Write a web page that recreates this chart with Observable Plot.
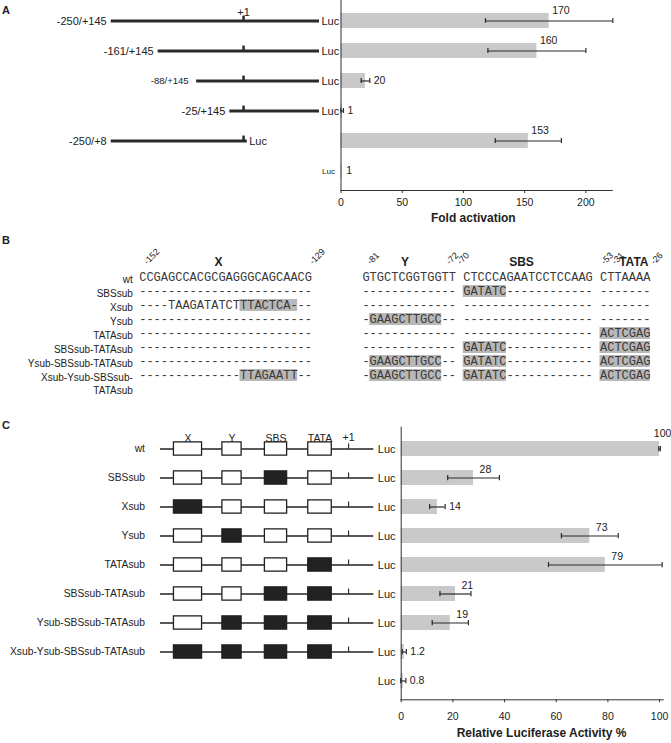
<!DOCTYPE html>
<html><head><meta charset="utf-8">
<script src="https://cdn.jsdelivr.net/npm/d3@7"></script>
<script src="https://cdn.jsdelivr.net/npm/@observablehq/plot@0.6"></script>
<style>
body{margin:0;background:#fff;}
#fig{position:relative;width:671px;height:743px;overflow:hidden;font-family:"Liberation Sans",Arial,sans-serif;color:#222;background:#fff;}
#fig svg{position:absolute;left:0;}
.panel{position:absolute;left:2px;font-weight:bold;font-size:11px;line-height:11px;}
</style></head><body><div id="fig"></div>
<script>
// ===== Panel A data =====
const aLabels = ["-250/+145", "-161/+145", "-88/+145", "-25/+145", "-250/+8", ""];
const aStart = [-250, -161, -88, -25, -250, null];
const aEnd = [145, 145, 145, 145, 8, null];
const aFold = [170, 160, 20, 1, 153, 1];
const aErr = [52, 40, 3.5, 1, 27, 0];
const aTicks = [0, 50, 100, 150, 200];
const tss = 1;

// ===== Panel B data =====
const bRows = ["wt", "SBSsub", "Xsub", "Ysub", "TATAsub", "SBSsub-TATAsub", "Ysub-SBSsub-TATAsub", "Xsub-Ysub-SBSsub-TATAsub"];
const bRowLabels = ["wt", "SBSsub", "Xsub", "Ysub", "TATAsub", "SBSsub-TATAsub", "Ysub-SBSsub-TATAsub", "Xsub-Ysub-SBSsub-\nTATAsub"];
const bSeqX = [
  "CCGAGCCACGCGAGGGCAGCAACG",
  "------------------------",
  "----TAAGATATCTTTACTCA---",
  "------------------------",
  "------------------------",
  "------------------------",
  "------------------------",
  "--------------TTAGAATT--"
];
const bSeqYSbsTata = [
  "GTGCTCGGTGGTT CTCCCAGAATCCTCCAAG CTTAAAA",
  "------------- GATATC------------ -------",
  "------------- ------------------ -------",
  "-GAAGCTTGCC-- ------------------ -------",
  "------------- ------------------ ACTCGAG",
  "------------- GATATC------------ ACTCGAG",
  "-GAAGCTTGCC-- GATATC------------ ACTCGAG",
  "-GAAGCTTGCC-- GATATC------------ ACTCGAG"
];
const bGap = 7; // blank columns between the X block and the Y/SBS/TATA block
// highlighted (substituted) stretches: row, first column, last column
const bHiRow = ["Xsub", "Xsub-Ysub-SBSsub-TATAsub", "SBSsub", "Ysub", "TATAsub",
  "SBSsub-TATAsub", "SBSsub-TATAsub",
  "Ysub-SBSsub-TATAsub", "Ysub-SBSsub-TATAsub", "Ysub-SBSsub-TATAsub",
  "Xsub-Ysub-SBSsub-TATAsub", "Xsub-Ysub-SBSsub-TATAsub", "Xsub-Ysub-SBSsub-TATAsub"];
const bHiFrom = [14, 14, 45, 32, 64, 45, 64, 32, 45, 64, 32, 45, 64];
const bHiTo = [21, 21, 50, 41, 70, 50, 70, 41, 50, 70, 41, 50, 70];
const bCoords = ["-152", "-129", "-81", "-72", "-70", "-53", "-31", "-26"];
const bCoordCols = [0, 23, 31, 42, 43.5, 63.5, 65, 70.4];
const bMotifs = ["X", "Y", "SBS", "TATA"];
const bMotifCols = [10.5, 36.4, 52.6, 68.2];

// ===== Panel C data =====
const cRows = ["wt", "SBSsub", "Xsub", "Ysub", "TATAsub", "SBSsub-TATAsub", "Ysub-SBSsub-TATAsub", "Xsub-Ysub-SBSsub-TATAsub", ""];
const cElements = ["X", "Y", "SBS", "TATA"];
const cMutated = [[], ["SBS"], ["X"], ["Y"], ["TATA"], ["SBS", "TATA"], ["Y", "SBS", "TATA"], ["X", "Y", "SBS", "TATA"], null];
const cActivity = [100, 28, 14, 73, 79, 21, 19, 1.2, 0.8];
const cErr = [0.3, 10, 3, 11, 22, 6, 7, 0.8, 1];
const cTicks = [0, 20, 40, 60, 80, 100];

// ===== drawing =====
const fig = document.getElementById("fig");
const ink = "#222";
const baseStyle = {background: "transparent", overflow: "visible", fontFamily: '"Liberation Sans", Arial, sans-serif', fontSize: "10.5px", color: ink};
function place(el, top) { el.style.top = top + "px"; el.style.position = "absolute"; fig.appendChild(el); }
function letter(t, top) { const d = document.createElement("div"); d.className = "panel"; d.textContent = t; d.style.top = top + "px"; fig.appendChild(d); }

function barPanel(o) {
  const data = o.ids.map((id, i) => ({id, v: o.values[i], e: o.errors[i]}));
  const step = (o.height - o.marginTop - o.marginBottom - o.insetTop - o.insetBottom) / o.ids.length;
  const cap = (step * 0.5 - 5) / 2;
  const withErr = data.filter(d => d.e > 0);
  const isTop = d => d.v > 0.9 * o.xMax;
  const isAbove = d => !isTop(d) && d.e >= 5;
  const isRight = d => !isTop(d) && d.e < 5;
  const lab = d => String(d.v);
  return Plot.plot({
    width: 671, height: o.height, marginTop: o.marginTop, marginBottom: o.marginBottom,
    marginLeft: o.marginLeft, marginRight: o.marginRight,
    x: {domain: [0, o.xMax], axis: null},
    y: {type: "band", domain: o.ids, paddingInner: 0.5, paddingOuter: 0.25, insetTop: o.insetTop, insetBottom: o.insetBottom, axis: null},
    style: baseStyle,
    marks: [
      Plot.barX(data, {x: "v", y: "id", fill: "#c9c9c9"}),
      Plot.ruleY(withErr, {y: "id", x1: d => d.v - d.e, x2: d => d.v + d.e, stroke: "#2a2a2a", strokeWidth: 1.2}),
      Plot.tickX(withErr, {x: d => d.v - d.e, y: "id", stroke: "#2a2a2a", strokeWidth: 1.2, insetTop: cap, insetBottom: cap}),
      Plot.tickX(withErr, {x: d => d.v + d.e, y: "id", stroke: "#2a2a2a", strokeWidth: 1.2, insetTop: cap, insetBottom: cap}),
      Plot.frame({anchor: "left", stroke: "#333"}),
      Plot.frame({anchor: "bottom", stroke: "#333"}),
      Plot.axisX(o.ticks, {tickSize: 3, tickPadding: o.tickPadding, fontSize: 10.5, label: null, stroke: "#333"}),
      Plot.text(data.filter(isTop), {x: "v", y: "id", text: lab, textAnchor: "middle", dx: 3, dy: -15, fontSize: 10.5}),
      Plot.text(data.filter(isAbove), {x: "v", y: "id", text: lab, textAnchor: "start", dx: o.aboveDx, dy: o.aboveDy, fontSize: 10.5}),
      Plot.text(data.filter(isRight), {x: d => d.v + d.e, y: "id", text: lab, textAnchor: "start", dx: 4, fontSize: 10.5}),
      Plot.text([o.title], {frameAnchor: "bottom", dx: o.titleDx, dy: o.titleDy, fontWeight: "bold", fontSize: 12})
    ]
  });
}

// ---- Panel A ----
const aData = aLabels.map((label, i) => ({id: i, label, start: aStart[i], end: aEnd[i]}));
const aCons = aData.filter(d => d.start != null);
const aIds = aData.map(d => d.id);
const aLayout = {height: 230, marginTop: 0, marginBottom: 40, insetTop: 4, insetBottom: 4};
const aStep = (aLayout.height - aLayout.marginTop - aLayout.marginBottom - aLayout.insetTop - aLayout.insetBottom) / aIds.length;
const aBw = aStep * 0.5;
const aMax = d3.max(aEnd);

place(Plot.plot({
  width: 671, height: aLayout.height, marginTop: aLayout.marginTop, marginBottom: aLayout.marginBottom,
  marginLeft: 110.7, marginRight: 352,
  x: {domain: [d3.min(aStart), aMax], axis: null},
  y: {type: "band", domain: aIds, paddingInner: 0.5, paddingOuter: 0.25, insetTop: aLayout.insetTop, insetBottom: aLayout.insetBottom, axis: null},
  style: baseStyle,
  marks: [
    Plot.ruleY(aCons, {y: "id", x1: "start", x2: "end", stroke: "#2a2a2a", strokeWidth: 3}),
    Plot.tickX(aCons, {x: () => tss, y: "id", stroke: "#2a2a2a", strokeWidth: 2.5, insetTop: aBw / 2 - 5, insetBottom: aBw / 2}),
    Plot.text(["+1"], {x: () => tss, frameAnchor: "top", dy: 8, fontSize: 11}),
    Plot.text(aCons.filter(d => d.label !== "-88/+145"), {x: "start", y: "id", text: "label", textAnchor: "end", dx: -4.5, fontSize: 11}),
    Plot.text(aCons.filter(d => d.label === "-88/+145"), {x: "start", y: "id", text: "label", textAnchor: "end", dx: -8, fontSize: 9.5}),
    Plot.text(aCons, {x: "end", y: "id", text: () => "Luc", textAnchor: "start", dx: 2, fontSize: 11}),
    Plot.text(aData.filter(d => d.start == null), {x: () => aMax, y: "id", text: () => "Luc", textAnchor: "start", dx: 2.5, fontSize: 8})
  ]
}), 0);

place(barPanel({
  ids: aIds, values: aFold, errors: aErr, ticks: aTicks, xMax: 221.5,
  ...aLayout, marginLeft: 340.5, marginRight: 59.3, tickPadding: 5,
  aboveDx: 3, aboveDy: -10, title: "Fold activation", titleDx: -3.3, titleDy: 31
}), 0);

// ---- Panel B ----
const bChars = [];
bRows.forEach((row, r) => {
  const s = bSeqX[r] + " ".repeat(bGap) + bSeqYSbsTata[r];
  [...s].forEach((ch, c) => { if (ch !== " ") bChars.push({row, col: c, ch}); });
});
const bHi = bHiRow.map((row, i) => ({row, from: bHiFrom[i], to: bHiTo[i]}));
const bLastCol = bSeqX[0].length + bGap + bSeqYSbsTata[0].length - 1;
const bCharW = 7.2;
const bLeft = 142.3;

place(Plot.plot({
  width: 671, height: 175, marginTop: 42.65, marginBottom: 14.75,
  marginLeft: bLeft, marginRight: 671 - bLeft - bLastCol * bCharW,
  x: {domain: [0, bLastCol], axis: null},
  y: {type: "band", domain: bRows, paddingInner: 0.14, paddingOuter: 0.07, axis: null},
  style: baseStyle,
  marks: [
    Plot.barX(bHi, {x1: d => d.from - 0.5, x2: d => d.to + 0.5, y: "row", fill: "#b8b8b8"}),
    Plot.text(bChars, {x: "col", y: "row", text: "ch", fontFamily: '"Liberation Mono", "Courier New", monospace', fontSize: 12, fill: "#3a3a3a"}),
    Plot.text(bRows, {y: d => d, frameAnchor: "left", text: (d, i) => bRowLabels[i], textAnchor: "end", lineAnchor: "top", dx: -10, dy: -4, lineHeight: 1.3, fontSize: 10}),
    Plot.text(bMotifs, {x: (d, i) => bMotifCols[i], frameAnchor: "top", dy: -10.4, fontWeight: "bold", fontSize: 12}),
    Plot.text(bCoords, {x: (d, i) => bCoordCols[i], frameAnchor: "top", dy: -7.6, rotate: -45, textAnchor: "start", fontSize: 9})
  ]
}), 225);

// ---- Panel C ----
const cData = cRows.map((label, i) => ({id: i, label, mutated: cMutated[i]}));
const cIds = cData.map(d => d.id);
const cCons = cData.filter(d => d.mutated !== null);
const cCells = cCons.flatMap(d => cElements.map(el => ({id: d.id, el, mut: d.mutated.includes(el)})));
const cLayout = {height: 343, marginTop: 26.7, marginBottom: 43.7, insetTop: 4.3, insetBottom: 2.8};
const cStep = (cLayout.height - cLayout.marginTop - cLayout.marginBottom - cLayout.insetTop - cLayout.insetBottom) / cIds.length;
const cBw = cStep * 0.5;
const boxW = {X: 28.3, Y: 19.4, SBS: 22.4, TATA: 23.7};
const xBand = 29.18;
const boxH = 13;
const lastEl = cElements[cElements.length - 1];

const cellMarks = cElements.flatMap(el => [false, true].map(mut =>
  Plot.cell(cCells.filter(c => c.el === el && c.mut === mut), {
    x: "el", y: "id", fill: mut ? "#222" : "#fff", stroke: "#222", strokeWidth: 1.3,
    insetLeft: (xBand - boxW[el]) / 2, insetRight: (xBand - boxW[el]) / 2,
    insetTop: (cBw - boxH) / 2, insetBottom: (cBw - boxH) / 2
  })));

place(Plot.plot({
  width: 671, height: cLayout.height, marginTop: cLayout.marginTop, marginBottom: cLayout.marginBottom,
  marginLeft: 160, marginRight: 297.7,
  x: {type: "band", domain: cElements, paddingInner: 0.35, paddingOuter: 0.2, insetLeft: 2.2, insetRight: 29.3, axis: null},
  y: {type: "band", domain: cIds, paddingInner: 0.5, paddingOuter: 0.25, insetTop: cLayout.insetTop, insetBottom: cLayout.insetBottom, axis: null},
  style: baseStyle,
  marks: [
    Plot.ruleY(cCons, {y: "id", stroke: "#222", strokeWidth: 1.3}),
    ...cellMarks,
    Plot.tickX(cCons, {x: () => lastEl, y: "id", dx: 28.6, stroke: "#222", strokeWidth: 1.1, insetTop: cBw / 2 - 5, insetBottom: cBw / 2}),
    Plot.text(cElements, {x: d => d, frameAnchor: "top", dy: 7.6, fontSize: 10.5}),
    Plot.text(["+1"], {x: () => lastEl, frameAnchor: "top", dx: 28.6, dy: 6.5, fontSize: 10.5}),
    Plot.text(cData, {y: "id", frameAnchor: "left", text: "label", textAnchor: "end", dx: -15.5, fontSize: 10.3}),
    Plot.text(cData, {y: "id", frameAnchor: "right", text: () => "Luc", textAnchor: "start", dx: 4, fontSize: 11})
  ]
}), 400);

place(barPanel({
  ids: cIds, values: cActivity, errors: cErr, ticks: cTicks, xMax: 101.4,
  ...cLayout, marginLeft: 400.7, marginRight: 8.3, tickPadding: 9.4,
  aboveDx: 6, aboveDy: -8, title: "Relative Luciferase Activity %", titleDx: 9.3, titleDy: 36.7
}), 400);

letter("A", 4.5);
letter("B", 235);
letter("C", 419.5);
</script></body></html>
